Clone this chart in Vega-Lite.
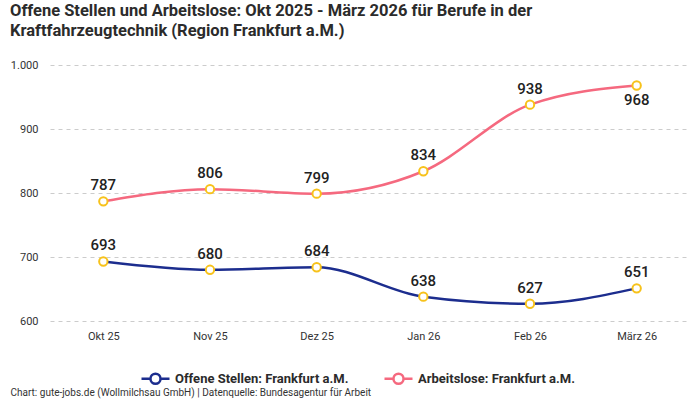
{
  "$schema": "https://vega.github.io/schema/vega-lite/v6.json",
  "width": 640,
  "height": 256,
  "autosize": {"type": "none"},
  "padding": {"left": 50, "top": 65, "right": 10, "bottom": 79},
  "background": "#ffffff",
  "title": {
    "text": ["Offene Stellen und Arbeitslose: Okt 2025 - März 2026 für Berufe in der", "Kraftfahrzeugtechnik (Region Frankfurt a.M.)"],
    "anchor": "start",
    "frame": "group",
    "dx": -40,
    "offset": 20,
    "font": "Roboto",
    "fontSize": 16.5,
    "fontWeight": "bold",
    "lineHeight": 20,
    "color": "#2b2b2b"
  },
  "config": {
    "view": {"stroke": "transparent"},
    "locale": {"number": {"decimal": ",", "thousands": ".", "grouping": [3], "currency": ["", " €"]}},
    "font": "Roboto"
  },
  "data": {
    "values": [
      {"Monat": "Okt 25", "Reihe": "Offene Stellen: Frankfurt a.M.", "Wert": 693},
      {"Monat": "Nov 25", "Reihe": "Offene Stellen: Frankfurt a.M.", "Wert": 680},
      {"Monat": "Dez 25", "Reihe": "Offene Stellen: Frankfurt a.M.", "Wert": 684},
      {"Monat": "Jan 26", "Reihe": "Offene Stellen: Frankfurt a.M.", "Wert": 638},
      {"Monat": "Feb 26", "Reihe": "Offene Stellen: Frankfurt a.M.", "Wert": 627},
      {"Monat": "März 26", "Reihe": "Offene Stellen: Frankfurt a.M.", "Wert": 651},
      {"Monat": "Okt 25", "Reihe": "Arbeitslose: Frankfurt a.M.", "Wert": 787},
      {"Monat": "Nov 25", "Reihe": "Arbeitslose: Frankfurt a.M.", "Wert": 806},
      {"Monat": "Dez 25", "Reihe": "Arbeitslose: Frankfurt a.M.", "Wert": 799},
      {"Monat": "Jan 26", "Reihe": "Arbeitslose: Frankfurt a.M.", "Wert": 834},
      {"Monat": "Feb 26", "Reihe": "Arbeitslose: Frankfurt a.M.", "Wert": 938},
      {"Monat": "März 26", "Reihe": "Arbeitslose: Frankfurt a.M.", "Wert": 968}
    ]
  },
  "encoding": {
    "x": {
      "field": "Monat",
      "type": "nominal",
      "sort": null,
      "scale": {"type": "point", "padding": 0.5},
      "axis": {
        "labelAngle": 0,
        "domain": false,
        "ticks": false,
        "grid": false,
        "labelPadding": 9,
        "labelFont": "Roboto",
        "labelFontSize": 11,
        "labelColor": "#333333",
        "title": "Chart: gute-jobs.de (Wollmilchsau GmbH) | Datenquelle: Bundesagentur für Arbeit",
        "titleX": -40,
        "titleY": 76,
        "titleAlign": "left",
        "titleAnchor": "start",
        "titleBaseline": "bottom",
        "titleFont": "Roboto",
        "titleFontSize": 10,
        "titleFontWeight": "normal",
        "titleColor": "#333333"
      }
    },
    "y": {
      "field": "Wert",
      "type": "quantitative",
      "scale": {"domain": [600, 1000], "nice": false, "zero": false},
      "axis": {
        "values": [600, 700, 800, 900, 1000],
        "format": ",d",
        "title": null,
        "domain": false,
        "ticks": false,
        "labelPadding": 12,
        "labelFont": "Roboto",
        "labelFontSize": 11,
        "labelColor": "#333333",
        "gridColor": "#cccccc",
        "gridDash": [4, 4],
        "gridWidth": 1
      }
    }
  },
  "layer": [
    {
      "mark": {"type": "line", "interpolate": "monotone", "strokeWidth": 2.5},
      "encoding": {
        "color": {
          "field": "Reihe",
          "type": "nominal",
          "sort": null,
          "scale": {
            "domain": ["Offene Stellen: Frankfurt a.M.", "Arbeitslose: Frankfurt a.M."],
            "range": ["#1c2d8e", "#f5697f"]
          },
          "legend": {
            "title": null,
            "orient": "none",
            "direction": "horizontal",
            "legendX": 90,
            "legendY": 298,
            "symbolType": "M-1,0H-0.36M0.36,0H1M0.36,0A0.36,0.36,0,1,1,-0.36,0A0.36,0.36,0,1,1,0.36,0",
            "symbolSize": 784,
            "symbolStrokeWidth": 2.5,
            "symbolFillColor": "#ffffff",
            "labelFont": "Roboto",
            "labelFontSize": 13,
            "labelFontWeight": "bold",
            "labelColor": "#2b2b2b",
            "labelLimit": 300,
            "columnPadding": 30
          }
        }
      }
    },
    {
      "mark": {"type": "point", "filled": true, "fill": "#ffffff", "stroke": "#f7c21b", "strokeWidth": 2, "size": 70, "opacity": 1}
    },
    {
      "transform": [{"filter": "!(datum.Monat == 'März 26' && datum.Wert > 900)"}],
      "mark": {"type": "text", "dy": -16, "fontSize": 15, "fontWeight": 500, "color": "#222222", "font": "Roboto"},
      "encoding": {"text": {"field": "Wert", "type": "quantitative"}}
    },
    {
      "transform": [{"filter": "datum.Monat == 'März 26' && datum.Wert > 900"}],
      "mark": {"type": "text", "dy": 15, "fontSize": 15, "fontWeight": 500, "color": "#222222", "font": "Roboto"},
      "encoding": {"text": {"field": "Wert", "type": "quantitative"}}
    }
  ]
}
